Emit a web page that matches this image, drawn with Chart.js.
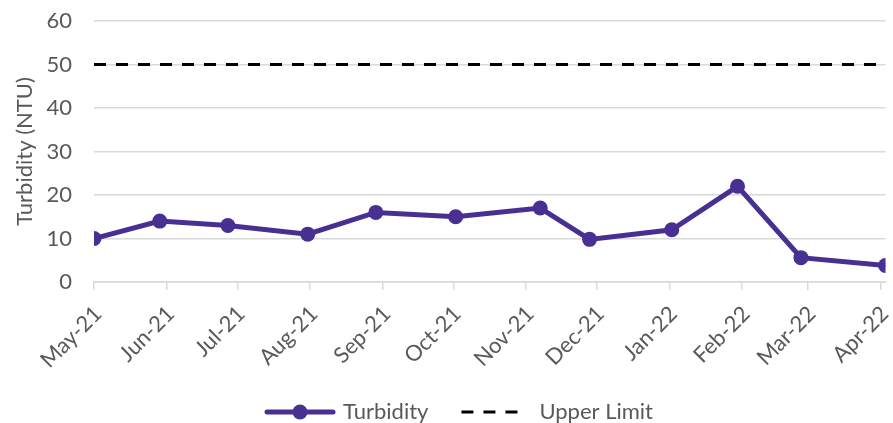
<!DOCTYPE html>
<html><head><meta charset="utf-8">
<script src="https://cdn.jsdelivr.net/npm/chart.js@4.4.1/dist/chart.umd.min.js"></script>
<style>html,body{margin:0;padding:0;background:#fff}#wrap{width:893px;height:423px}</style>
</head><body><div id="wrap"><canvas id="c" width="893" height="423"></canvas></div>
<script>
// ---- data ----
const sampleDates = ['2021-05-01','2021-05-29','2021-06-27','2021-07-31','2021-08-29','2021-10-02','2021-11-07','2021-11-28','2022-01-02','2022-01-30','2022-02-26','2022-04-03'];
const turbidity = [10, 14, 13, 11, 16, 15, 17, 9.8, 12, 22, 5.6, 3.8];
const upperLimitDates = ['2021-05-01','2022-04-03'];
const upperLimit = [50, 50];
const monthTicks = ['2021-05-01','2021-06-01','2021-07-01','2021-08-01','2021-09-01','2021-10-01','2021-11-01','2021-12-01','2022-01-01','2022-02-01','2022-03-01','2022-04-01'];
const monthLabels = ['May-21','Jun-21','Jul-21','Aug-21','Sep-21','Oct-21','Nov-21','Dec-21','Jan-22','Feb-22','Mar-22','Apr-22'];
const yMin = 0, yMax = 60, yStep = 10;

// ---- helpers ----
const ORIGIN = Date.UTC(2021, 4, 1);
function dayNum(s){ const [y,m,d] = s.split('-').map(Number); return (Date.UTC(y, m-1, d) - ORIGIN) / 86400000; }
const PURPLE = '#483092';
const TXT = '#595959';
const FONT = 'Lato';
const FS = 22;

function makeIcon(w, h, draw){ const c = document.createElement('canvas'); c.width = w; c.height = h; draw(c.getContext('2d')); return c; }
const turbIcon = makeIcon(105, 18, g => {
  g.strokeStyle = PURPLE; g.lineWidth = 5; g.lineCap = 'round';
  g.beginPath(); g.moveTo(36, 9); g.lineTo(102, 9); g.stroke();
  g.fillStyle = PURPLE; g.beginPath(); g.arc(69, 9, 7.5, 0, Math.PI*2); g.fill();
});
const limitIcon = makeIcon(83, 18, g => {
  g.strokeStyle = '#000'; g.lineWidth = 3;
  g.setLineDash([12, 10]); g.beginPath(); g.moveTo(23, 9); g.lineTo(83, 9); g.stroke();
});

new Chart(document.getElementById('c'), {
  type: 'line',
  data: {
    datasets: [
      { label: 'Turbidity', data: sampleDates.map((d,i) => ({x: dayNum(d), y: turbidity[i]})),
        borderColor: PURPLE, backgroundColor: PURPLE, borderWidth: 5, pointRadius: 7.5, pointBorderWidth: 0,
        pointBackgroundColor: PURPLE, tension: 0, order: 1 },
      { label: 'Upper Limit', data: upperLimitDates.map((d,i) => ({x: dayNum(d), y: upperLimit[i]})),
        borderColor: '#000', borderWidth: 3, borderDash: [12, 10], pointRadius: 0, tension: 0, order: 2 }
    ]
  },
  options: {
    responsive: false, animation: false, devicePixelRatio: 1,
    layout: { padding: { left: 0, right: 5, top: 21, bottom: -10 } },
    scales: {
      x: {
        type: 'linear', min: dayNum(sampleDates[0]), max: dayNum(sampleDates[sampleDates.length-1]),
        afterBuildTicks: s => { s.ticks = monthTicks.map(d => ({ value: dayNum(d) })); },
        afterFit: s => { s.height = 116; s.paddingLeft = 0; s.paddingRight = 0; },
        ticks: { autoSkip: false, maxRotation: 45, minRotation: 45, padding: 11, labelOffset: 4,
          color: TXT, font: { family: FONT, size: FS },
          callback: (v, i) => monthLabels[i] },
        grid: { drawOnChartArea: false, color: '#d9d9d9', lineWidth: 1.5, tickLength: 8 },
        border: { color: '#d9d9d9', width: 1.5 }
      },
      y: {
        min: yMin, max: yMax,
        ticks: { stepSize: yStep, padding: 22, color: TXT, font: { family: FONT, size: FS } },
        afterFit: s => { s.width = 94; s.paddingTop = 0; s.paddingBottom = 0; },
        grid: { color: '#d9d9d9', lineWidth: 1.5, drawTicks: false },
        border: { display: false },
        title: { display: true, text: 'Turbidity (NTU)', color: TXT, font: { family: FONT, size: FS }, padding: { top: 12, bottom: 0 } }
      }
    },
    plugins: {
      legend: {
        position: 'bottom',
        labels: {
          usePointStyle: true, pointStyleWidth: 97, padding: 3,
          color: TXT, font: { family: FONT, size: FS },
          generateLabels: chart => chart.data.datasets.map((ds, i) => ({
            text: ds.label, datasetIndex: i, pointStyle: i === 0 ? turbIcon : limitIcon,
            fontColor: TXT, hidden: false, lineWidth: 0, strokeStyle: 'transparent', fillStyle: 'transparent'
          }))
        }
      },
      tooltip: { enabled: false }
    }
  }
});
</script></body></html>
